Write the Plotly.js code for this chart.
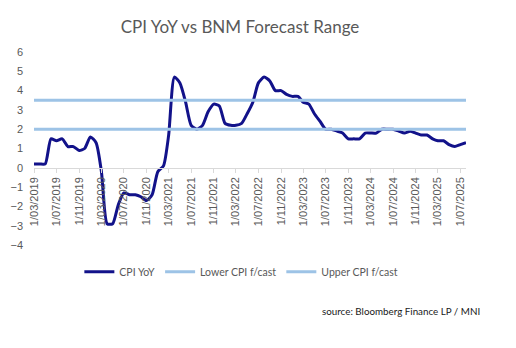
<!DOCTYPE html>
<html>
<head>
<meta charset="utf-8">
<script src="https://cdn.plot.ly/plotly-3.0.1.min.js"></script>
<style>html,body{margin:0;padding:0;background:#fff;}#chart{width:516px;height:348px;}</style>
</head>
<body>
<div id="chart"></div>
<script>
// Monthly dates Mar 2019 .. Aug 2025
const startYear = 2019, startMonth = 3;
const cpiYoY = [
  0.2, 0.2, 0.2, 1.5, 1.4, 1.5, 1.1, 1.1, 0.9, 1.0,            // 2019 Mar-Dec
  1.6, 1.3, -0.2, -2.9, -2.9, -1.9, -1.3, -1.4, -1.4, -1.5, -1.7, -1.4, // 2020
  -0.2, 0.1, 1.7, 4.7, 4.4, 3.4, 2.2, 2.0, 2.2, 2.9, 3.3, 3.2, // 2021
  2.3, 2.2, 2.2, 2.3, 2.8, 3.4, 4.4, 4.7, 4.5, 4.0, 4.0, 3.8,  // 2022
  3.7, 3.7, 3.4, 3.3, 2.8, 2.4, 2.0, 2.0, 1.9, 1.8, 1.5, 1.5,  // 2023
  1.5, 1.8, 1.8, 1.8, 2.0, 2.0, 2.0, 1.9, 1.8, 1.9, 1.8, 1.7,  // 2024
  1.7, 1.5, 1.4, 1.4, 1.2, 1.1, 1.2, 1.3                       // 2025 Jan-Aug
];
const lowerForecast = 2.0;
const upperForecast = 3.5;
const seriesNames = ["CPI YoY", "Lower CPI f/cast", "Upper CPI f/cast"];
const titleText = "CPI YoY vs BNM Forecast Range";
const sourceText = "source: Bloomberg Finance LP / MNI";

const dates = cpiYoY.map((v, i) => {
  const m = startMonth - 1 + i;
  const y = startYear + Math.floor(m / 12);
  const mm = (m % 12) + 1;
  return y + "-" + String(mm).padStart(2, "0") + "-01";
});
const lowerArr = dates.map(() => lowerForecast);
const upperArr = dates.map(() => upperForecast);

const textGrey = "#595959";
const traces = [
  {x: dates, y: cpiYoY, name: seriesNames[0], type: "scatter", mode: "lines",
   line: {color: "#12128a", width: 3, shape: "spline", smoothing: 0.6}},
  {x: dates, y: lowerArr, name: seriesNames[1], type: "scatter", mode: "lines",
   line: {color: "#9dc3e6", width: 3}},
  {x: dates, y: upperArr, name: seriesNames[2], type: "scatter", mode: "lines",
   line: {color: "#9dc3e6", width: 3}}
];

const layout = {
  width: 516, height: 348,
  margin: {l: 34, r: 50, t: 52, b: 103},
  paper_bgcolor: "#fff", plot_bgcolor: "#fff",
  title: {text: titleText, x: 240/516, xref: "container", xanchor: "center",
          y: 1 - 27/348, yref: "container", yanchor: "middle",
          font: {family: "Lato, 'Open Sans', sans-serif", size: 17, color: textGrey}},
  xaxis: {
    type: "date", range: [dates[0], dates[dates.length - 1]],
    anchor: "free", position: 0.4,
    tick0: "2019-03-01", dtick: "M4", tickformat: "%-d/%m/%Y",
    tickangle: -90, ticks: "outside", ticklen: 4, tickcolor: "#d9d9d9",
    showline: true, linecolor: "#d9d9d9", linewidth: 1,
    showgrid: false, zeroline: false, automargin: false,
    tickfont: {family: "'Liberation Sans', Arial, sans-serif", size: 11, color: textGrey}
  },
  yaxis: {
    range: [-4, 6], dtick: 1, showgrid: false, zeroline: false, showline: false,
    ticks: "", automargin: false, ticklabelstandoff: 10,
    tickfont: {family: "'Liberation Sans', Arial, sans-serif", size: 11, color: textGrey}
  },
  showlegend: true,
  legend: {orientation: "h", x: 0.105, xanchor: "left", y: -0.138, yanchor: "middle",
           font: {family: "Lato, 'Open Sans', sans-serif", size: 10.5, color: textGrey},
           bgcolor: "rgba(0,0,0,0)", traceorder: "normal"},
  annotations: [{
    text: sourceText, xref: "paper", yref: "paper", x: (482 - 34)/432, y: -0.342,
    xanchor: "right", yanchor: "middle", showarrow: false,
    font: {family: "Lato, 'Open Sans', sans-serif", size: 9.8, color: "#1a1a1a"}
  }]
};

Plotly.newPlot("chart", traces, layout, {displayModeBar: false, staticPlot: true});
</script>
</body>
</html>
